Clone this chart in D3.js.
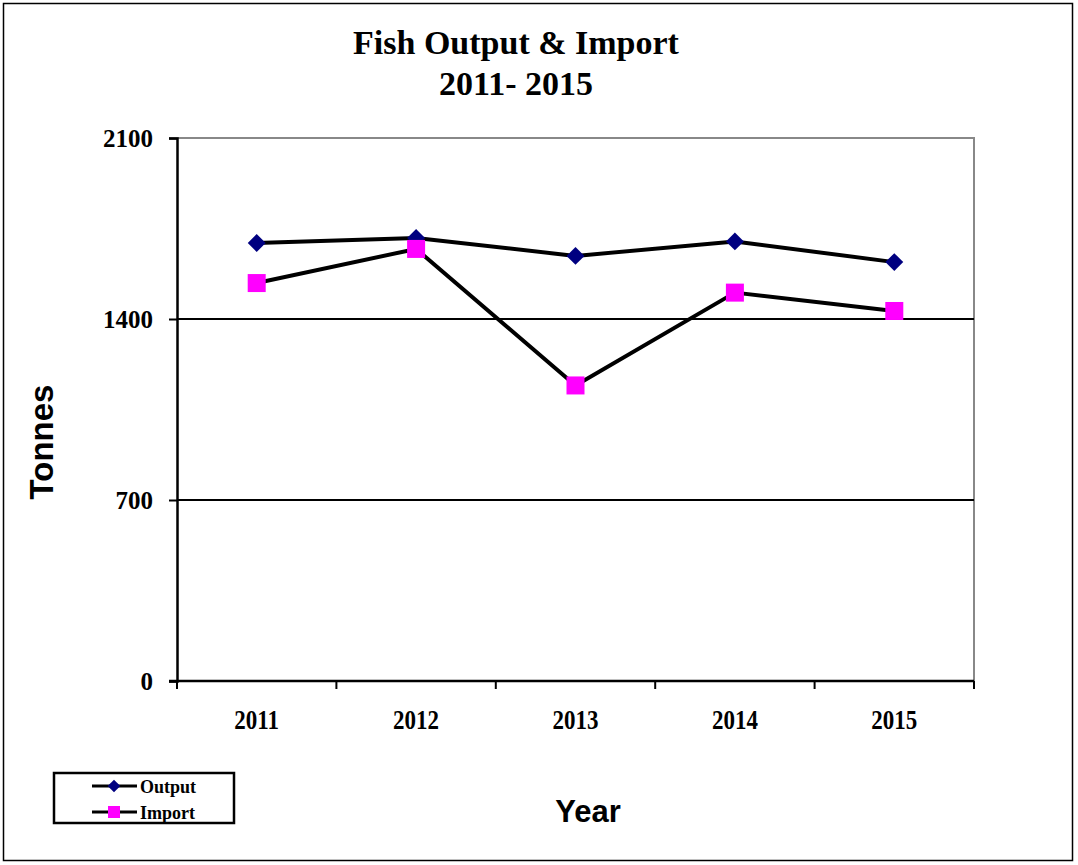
<!DOCTYPE html>
<html><head><meta charset="utf-8">
<script src="https://cdn.jsdelivr.net/npm/d3@7"></script>
<style>body{margin:0;background:#fff}svg{display:block}</style>
</head><body>
<svg id="c" width="1078" height="865"></svg>
<script>
const years = ["2011","2012","2013","2014","2015"];
const outputValues = [1694, 1713, 1644, 1700, 1620];
const importValues = [1539, 1671, 1143, 1502, 1431];
const yTicks = [0, 700, 1400, 2100];
const seriesNames = ["Output", "Import"];

const serif = "Liberation Serif, Times New Roman, serif";
const sans = "Liberation Sans, Arial, sans-serif";
const svg = d3.select("#c");
svg.append("rect").attr("x",3.5).attr("y",3.5).attr("width",1069).attr("height",857)
  .attr("fill","#fff").attr("stroke","#000").attr("stroke-width",1.5);

const L=177, R=974, T=138, B=681;
const x = d3.scaleBand().domain(years).range([L,R]);
const y = d3.scaleLinear().domain([0,2100]).range([B,T]);

// plot frame top/right gray
svg.append("path").attr("d",`M${L},${T}H${R}V${B}`).attr("fill","none").attr("stroke","#888").attr("stroke-width",2);
// gridlines
svg.selectAll(".grid").data(yTicks.filter(d=>d>0&&d<2100)).enter().append("line")
  .attr("x1",L).attr("x2",R).attr("y1",d=>y(d)).attr("y2",d=>y(d)).attr("stroke","#000").attr("stroke-width",2);

// y axis
const ya = svg.append("g").attr("transform",`translate(${L},0)`)
  .call(d3.axisLeft(y).tickValues(yTicks).tickFormat(d3.format("d")).tickSize(8).tickPadding(16));
ya.select(".domain").attr("stroke","#000").attr("stroke-width",2.5);
ya.selectAll(".tick line").attr("stroke","#000").attr("stroke-width",2);
ya.selectAll("text").attr("font-family",serif).attr("font-weight","bold").attr("font-size",25).attr("fill","#000").attr("dy","0.33em").attr("x",-24);

// x axis
const xa = svg.append("g").attr("transform",`translate(0,${B})`);
xa.append("line").attr("x1",L-8).attr("x2",R).attr("y1",0).attr("y2",0).attr("stroke","#000").attr("stroke-width",2.5);
const bounds = years.map(d=>x(d)).concat([R]);
xa.selectAll(".tk").data(bounds).enter().append("line")
  .attr("x1",d=>d).attr("x2",d=>d).attr("y1",0).attr("y2",8).attr("stroke","#000").attr("stroke-width",2);
xa.selectAll(".lb").data(years).enter().append("text")
  .attr("transform",d=>`translate(${x(d)+x.bandwidth()/2},48) scale(1,1.18)`).attr("text-anchor","middle")
  .attr("font-family",serif).attr("font-weight","bold").attr("font-size",23)
  .text(d=>d);

// lines
const line = d3.line().x((d,i)=>x(years[i])+x.bandwidth()/2).y(d=>y(d));
[outputValues, importValues].forEach(v=>{
  svg.append("path").attr("d",line(v)).attr("fill","none").attr("stroke","#000").attr("stroke-width",4).attr("stroke-linejoin","round");
});
const diamond = d3.symbol().type(d3.symbolSquare).size(160);
svg.selectAll(".om").data(outputValues).enter().append("path")
  .attr("d",diamond)
  .attr("transform",(d,i)=>`translate(${x(years[i])+x.bandwidth()/2},${y(d)}) rotate(45)`)
  .attr("fill","#000080");
svg.selectAll(".im").data(importValues).enter().append("rect")
  .attr("x",(d,i)=>x(years[i])+x.bandwidth()/2-9).attr("y",d=>y(d)-9)
  .attr("width",18).attr("height",18).attr("fill","#ff00ff");

// title
const title = svg.append("text").attr("text-anchor","middle").attr("font-family",serif)
  .attr("font-weight","bold").attr("font-size",34);
title.append("tspan").attr("x",516).attr("y",54).text("Fish Output & Import");
title.append("tspan").attr("x",516).attr("y",95).text("2011- 2015");

// axis titles
svg.append("text").attr("transform","translate(53,442) rotate(-90)").attr("text-anchor","middle")
  .attr("font-family",sans).attr("font-weight","bold").attr("font-size",33).text("Tonnes");
svg.append("text").attr("x",588).attr("y",822).attr("text-anchor","middle")
  .attr("font-family",sans).attr("font-weight","bold").attr("font-size",31).text("Year");

// legend
const lg = svg.append("g");
lg.append("rect").attr("x",54).attr("y",773).attr("width",180).attr("height",50).attr("fill","#fff").attr("stroke","#000").attr("stroke-width",2.5);
seriesNames.forEach((n,i)=>{
  const yy = 786 + i*26;
  lg.append("line").attr("x1",92).attr("x2",137).attr("y1",yy).attr("y2",yy).attr("stroke","#000").attr("stroke-width",3);
  if(i===0){
    lg.append("path").attr("d",d3.symbol().type(d3.symbolSquare).size(80)).attr("transform",`translate(114,${yy}) rotate(45)`).attr("fill","#000080");
  } else {
    lg.append("rect").attr("x",108).attr("y",yy-6).attr("width",12).attr("height",12).attr("fill","#ff00ff");
  }
  lg.append("text").attr("x",140).attr("y",yy+7).attr("font-family",serif)
    .attr("font-weight","bold").attr("font-size",18).text(n);
});
</script>
</body></html>
